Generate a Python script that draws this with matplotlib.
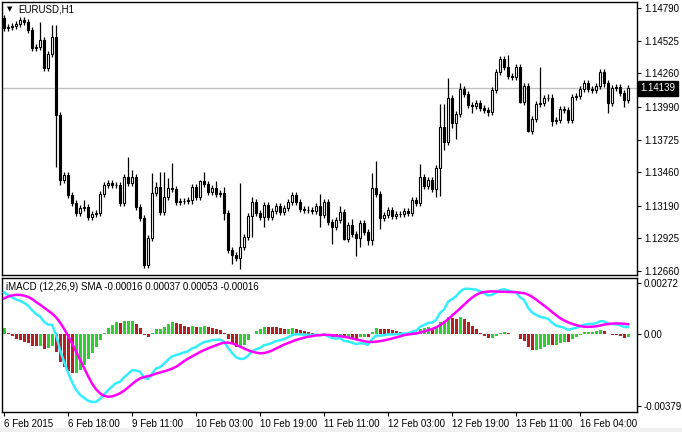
import numpy as np
import matplotlib
matplotlib.use("Agg")
import matplotlib.pyplot as plt
from matplotlib.transforms import blended_transform_factory
from matplotlib.patches import Rectangle

plt.rcParams['font.family'] = ['Liberation Sans', 'DejaVu Sans']

# ---- data (prices in points, 1 point = 0.00001) ----
first_open_pts = 114709
closes_pts = [
    114628, 114636, 114644, 114660, 114693, 114677, 114612, 114466, 114474, 114531,
    114304, 114417, 114555, 113923, 113397, 113437, 113275, 113211, 113130, 113170,
    113178, 113097, 113122, 113130, 113283, 113356, 113372, 113356, 113356, 113211,
    113421, 113372, 113421, 113178, 113089, 112708, 112928, 113291, 113340, 113138,
    113259, 113332, 113325, 113219, 113225, 113227, 113232, 113340, 113259, 113389,
    113364, 113300, 113332, 113283, 113291, 113130, 112830, 112790, 112765, 112855,
    112936, 113105, 113219, 113130, 113097, 113194, 113097, 113146, 113186, 113138,
    113170, 113219, 113275, 113219, 113162, 113158, 113154, 113150, 113186, 113113,
    113219, 113057, 113016, 113073, 113138, 112919, 113032, 112960, 112928, 113049,
    112976, 112911, 113332, 113283, 113089, 113113, 113154, 113105, 113122, 113125,
    113146, 113130, 113235, 113211, 113421, 113348, 113397, 113324, 113494, 113826,
    113705, 114061, 113858, 113931, 114134, 114093, 114004, 114000, 114020, 113980,
    113964, 113948, 114126, 114272, 114377, 114312, 114239, 114231, 114312, 114029,
    114158, 113794, 113891, 114012, 114020, 114061, 114065, 113875, 113883, 113972,
    113964, 113883, 114069, 114075, 114134, 114182, 114134, 114126, 114158, 114272,
    114182, 114020, 114142, 114150, 114101, 114045, 114139,
]
default_wick_pts = 25
upper_wick_pts = {9: 146, 12: 100, 13: 100, 20: 60, 31: 160, 32: 60, 37: 160, 38: 40,
                  39: 120, 40: 200, 41: 80, 42: 200, 49: 10, 50: 70, 53: 60, 55: 50,
                  59: 520, 62: 40, 79: 100, 84: 50, 87: 50, 92: 120, 93: 220, 104: 110,
                  109: 190, 110: 190, 111: 160, 114: 50, 126: 100, 134: 290}
lower_wick_pts = {13: 420, 14: 40, 55: 56, 57: 70, 59: 90, 62: 170, 65: 80, 79: 100,
                  82: 140, 85: 10, 88: 150, 89: 70, 91: 40, 92: 40, 94: 90, 108: 65,
                  109: 230, 110: 65, 112: 40, 113: 130, 117: 60, 121: 30, 129: 10,
                  131: 10, 137: 40, 141: 20, 150: 30, 151: 80, 155: 60}
current_price = 1.14139

# MACD warm-up state (before first visible bar)
ema12_init = 1.14600
ema26_init = 1.14362
main_history_init = [0.0012, 0.0014, 0.0016, 0.0018, 0.0020, 0.0021, 0.0023, 0.0025]

price_ticks = [1.14790, 1.14525, 1.14260, 1.13990, 1.13725, 1.13460, 1.13190, 1.12925, 1.12660]
macd_ticks = [0.00272, 0.0, -0.00379]
macd_tick_labels = ["0.00272", "0.00", "-0.00379"]
date_tick_idx = [0, 16, 32, 48, 64, 80, 96, 112, 128, 144]
date_labels = ["6 Feb 2015", "6 Feb 18:00", "9 Feb 11:00", "10 Feb 03:00", "10 Feb 19:00",
               "11 Feb 11:00", "12 Feb 03:00", "12 Feb 19:00", "13 Feb 11:00", "16 Feb 04:00"]

# ---- derived ----
close = np.array(closes_pts) / 1e5
n = len(close)
opens = np.concatenate([[first_open_pts / 1e5], close[:-1]])
up = np.array([upper_wick_pts.get(i, default_wick_pts) for i in range(n)]) / 1e5
lo = np.array([lower_wick_pts.get(i, default_wick_pts) for i in range(n)]) / 1e5
high = np.maximum(opens, close) + up
low = np.minimum(opens, close) - lo

a12, a26 = 2 / 13, 2 / 27
e12, e26 = ema12_init, ema26_init
main = []
for c in close:
    e12 = e12 + a12 * (c - e12)
    e26 = e26 + a26 * (c - e26)
    main.append(e12 - e26)
main = np.array(main)
full = np.concatenate([main_history_init, main])
signal = np.array([full[i:i + 9].mean() for i in range(n)])
hist = main - signal
hist_prev = np.concatenate([[hist[0] - 1], hist[:-1]])
hist_colors = np.where(hist > hist_prev, "#32CD32", "#B22222")

# ---- figure ----
fig = plt.figure(figsize=(6.82, 4.32), dpi=100)
W, H = 682, 432
def rect(x0, y0, x1, y1):
    return [x0 / W, 1 - y1 / H, (x1 - x0) / W, (y1 - y0) / H]

fig.patches.append(Rectangle((0, 0), 1, 4 / H, transform=fig.transFigure,
                             fc="#f0f0f0", ec="none"))

ax = fig.add_axes(rect(2, 2, 637, 275))
ax2 = fig.add_axes(rect(2, 278, 637, 412))
x = np.arange(n)
xlim = (-0.5, 158.25)

ax.vlines(x, low, high, color="black", lw=0.9, zorder=2)
bull = close >= opens
body_h = np.maximum(np.abs(close - opens), 0.000015)
ax.bar(x, body_h, bottom=np.minimum(opens, close), width=0.72,
       color=np.where(bull, "white", "black"), edgecolor="black", linewidth=0.8, zorder=3)
ax.axhline(current_price, color="#c0c0c0", lw=1, zorder=1)
ax.set_xlim(*xlim)
ax.set_ylim(1.12628, 1.14839)
ax.set_xticks([])
ax.yaxis.tick_right()
ax.set_yticks(price_ticks)
ax.set_yticklabels([f"{t:.5f}" for t in price_ticks])
tr = blended_transform_factory(ax.transAxes, ax.transData)
ax.text(1.006, current_price, f"{current_price:.5f}", transform=tr, fontsize=7, color="white",
        va="center", ha="left", bbox=dict(boxstyle="square,pad=0.25", fc="black", ec="black"))
ax.text(0.008, 0.985, "▼", transform=ax.transAxes, fontsize=5, va="top", ha="left",
        family="DejaVu Sans")
ax.text(0.026, 0.99, "EURUSD,H1", transform=ax.transAxes, fontsize=7, va="top", ha="left")

ax2.bar(x, hist, width=0.75, color=hist_colors, linewidth=0, antialiased=False, zorder=2)
ax2.plot(x, main, color="#33EEFF", lw=1.8, zorder=3)
ax2.plot(x, signal, color="#FF00FF", lw=1.8, zorder=4)
ax2.set_xlim(*xlim)
ax2.set_ylim(-0.004107, 0.002985)
ax2.yaxis.tick_right()
ax2.set_yticks(macd_ticks)
ax2.set_yticklabels(macd_tick_labels)
ax2.set_xticks(date_tick_idx)
ax2.set_xticklabels(date_labels, ha="left")
ax2.text(0.006, 0.97, "iMACD (12,26,9) SMA -0.00016 0.00037 0.00053 -0.00016",
         transform=ax2.transAxes, fontsize=7, va="top", ha="left")

for a in (ax, ax2):
    for s in a.spines.values():
        s.set_color("black")
        s.set_linewidth(1)
    a.tick_params(axis="both", labelsize=7, length=3, width=0.8, direction="out", pad=2)
ax2.tick_params(axis="x", pad=2)

fig.savefig("out.png", dpi=100, facecolor="white")
